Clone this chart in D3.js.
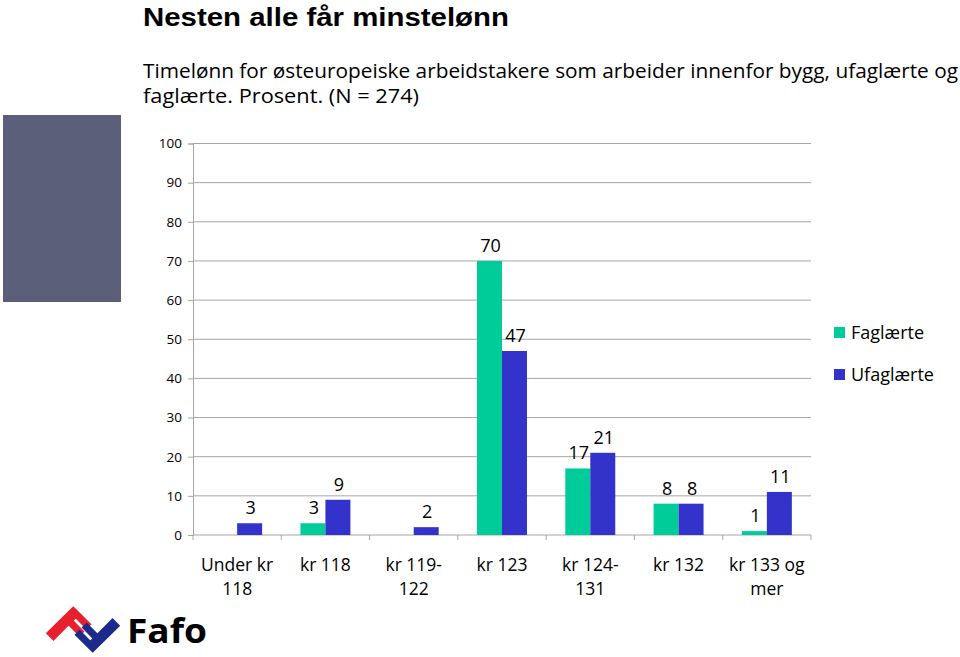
<!DOCTYPE html>
<html>
<head>
<meta charset="utf-8">
<script src="https://cdn.jsdelivr.net/npm/d3@7"></script>
<style>
  html, body { margin: 0; padding: 0; background: #fff; }
  svg { display: block; font-family: "Open Sans", "DejaVu Sans", sans-serif; }
</style>
</head>
<body>
<svg id="chart" width="960" height="657"></svg>
<script>
const categories = [["Under kr", "118"], ["kr 118"], ["kr 119-", "122"], ["kr 123"], ["kr 124-", "131"], ["kr 132"], ["kr 133 og", "mer"]];
const seriesNames = ["Faglærte", "Ufaglærte"];
const faglaerte = [null, 3, null, 70, 17, 8, 1];
const ufaglaerte = [3, 9, 2, 47, 21, 8, 11];
const yTicks = [0, 10, 20, 30, 40, 50, 60, 70, 80, 90, 100];
const colors = ["#00CC99", "#3333CC"];
const title = "Nesten alle får minstelønn";
const subtitle = ["Timelønn for østeuropeiske arbeidstakere som arbeider innenfor bygg, ufaglærte og", "faglærte. Prosent. (N = 274)"];

const svg = d3.select("#chart");
const catKeys = categories.map(c => c.join(" "));
const series = [faglaerte, ufaglaerte];

const y = d3.scaleLinear().domain([0, 100]).range([535, 143.5]);
const x0 = d3.scaleBand().domain(catKeys).range([193, 811]).paddingInner(0.434).paddingOuter(0.217);
const x1 = d3.scaleBand().domain(seriesNames).range([0, x0.bandwidth()]);

// Title & subtitle
svg.append("text").attr("x", 143).attr("y", 26).attr("font-size", 26).attr("font-weight", "bold")
  .attr("font-family", "'Liberation Sans', Arial, sans-serif")
  .attr("textLength", 366).attr("lengthAdjust", "spacingAndGlyphs")
  .attr("fill", "#000").text(title);
const subLens = [815, 276];
subtitle.forEach((s, i) => {
  svg.append("text").attr("x", 143).attr("y", 78 + i * 24.5).attr("font-size", 19.5)
    .attr("textLength", subLens[i]).attr("lengthAdjust", "spacingAndGlyphs")
    .attr("fill", "#000").text(s);
});

// decorative block
svg.append("rect").attr("x", 3).attr("y", 115).attr("width", 118).attr("height", 187).attr("fill", "#5A5E78");

// gridlines
const grid = svg.append("g");
grid.selectAll("line").data(yTicks.filter(t => t > 0)).join("line")
  .attr("x1", 193).attr("x2", 811)
  .attr("y1", d => y(d)).attr("y2", d => y(d))
  .attr("stroke", "#A6A6A6").attr("stroke-width", 1);

// y axis
const yAxis = svg.append("g").attr("transform", "translate(193,0)")
  .call(d3.axisLeft(y).tickValues(yTicks).tickSize(5).tickPadding(6));
yAxis.select(".domain").attr("stroke", "#A6A6A6");
yAxis.selectAll(".tick line").attr("stroke", "#A6A6A6");
yAxis.selectAll(".tick text").attr("font-size", 13.5).attr("fill", "#000")
  .attr("font-family", "'Open Sans', sans-serif");

// x axis line and boundary ticks
svg.append("line").attr("x1", 193).attr("x2", 811).attr("y1", 535).attr("y2", 535)
  .attr("stroke", "#A6A6A6");
const step = x0.step();
const bounds = catKeys.map(k => x0(k) - (step - x0.bandwidth()) / 2).concat([811]);
svg.append("g").selectAll("line").data(bounds).join("line")
  .attr("x1", d => d).attr("x2", d => d).attr("y1", 535).attr("y2", 540)
  .attr("stroke", "#A6A6A6");

// category labels
const catG = svg.append("g");
categories.forEach((lines, i) => {
  const cx = x0(catKeys[i]) + x0.bandwidth() / 2;
  const t = catG.append("text").attr("text-anchor", "middle").attr("font-size", 17.5).attr("fill", "#000");
  lines.forEach((l, j) => {
    t.append("tspan").attr("x", cx).attr("y", 571 + j * 23.5).text(l);
  });
});

// bars
const barsG = svg.append("g");
series.forEach((vals, si) => {
  vals.forEach((v, ci) => {
    if (v == null) return;
    const bx = x0(catKeys[ci]) + x1(seriesNames[si]);
    barsG.append("rect").attr("x", bx).attr("y", y(v))
      .attr("width", x1.bandwidth()).attr("height", y(0) - y(v))
      .attr("fill", colors[si]);
    barsG.append("text").attr("x", bx + x1.bandwidth() / 2 + 1).attr("y", y(v) - 9)
      .attr("text-anchor", "middle").attr("font-size", 18).attr("fill", "#000").text(v);
  });
});

// legend
const leg = svg.append("g");
seriesNames.forEach((n, i) => {
  leg.append("rect").attr("x", 834).attr("y", 327 + i * 42).attr("width", 11).attr("height", 11).attr("fill", colors[i]);
  leg.append("text").attr("x", 851).attr("y", 339 + i * 42).attr("font-size", 18).attr("fill", "#000").text(n);
});

// Fafo logo
const logo = svg.append("g");
logo.append("path")
  .attr("d", "M46.7,633.3 L73.3,607 L90.65,624.35 L86.45,628.55 L75.7,617.8 L72.9,620.6 L83.6,631.4 L79.35,635.65 L68.6,624.9 L53.45,640.05 Z")
  .attr("fill", "#E8202E").attr("stroke", "#E8202E").attr("stroke-width", 1.2).attr("stroke-linejoin", "miter");
logo.append("path")
  .attr("transform", "translate(1,3)")
  .attr("d", "M118.3,622.7 L91.7,649 L74.35,631.65 L78.55,627.45 L89.3,638.2 L92.1,635.4 L81.4,624.6 L85.65,620.35 L96.4,631.1 L111.55,615.95 Z")
  .attr("fill", "#1C2A8C").attr("stroke", "#1C2A8C").attr("stroke-width", 1.2).attr("stroke-linejoin", "miter");
logo.append("text").attr("x", 127).attr("y", 643).attr("font-size", 34).attr("font-weight", "bold")
  .attr("textLength", 80).attr("lengthAdjust", "spacingAndGlyphs")
  .attr("fill", "#000").text("Fafo");
</script>
</body>
</html>
